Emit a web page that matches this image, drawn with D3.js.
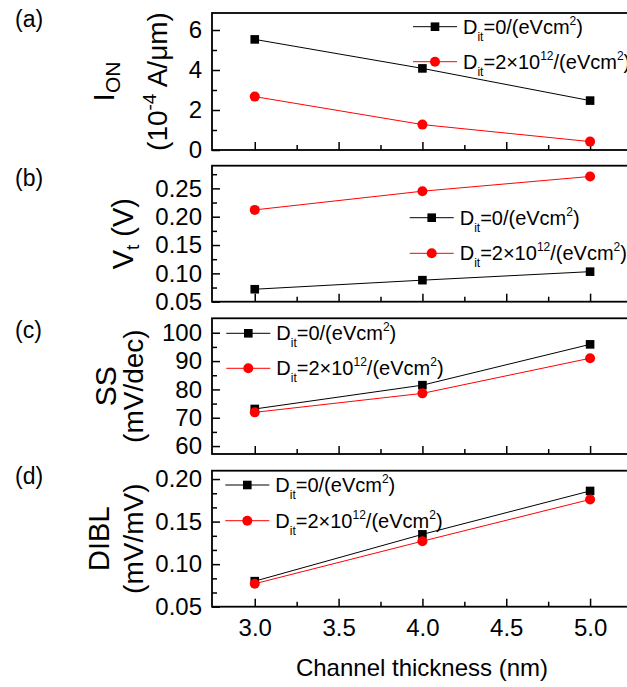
<!DOCTYPE html>
<html><head><meta charset="utf-8">
<script src="https://cdn.jsdelivr.net/npm/d3@7"></script>
<style>body{margin:0;background:#fff}svg{display:block}text{font-family:Arial,"Liberation Sans",sans-serif;fill:#000}</style>
</head><body>
<script>
// ---- data ----
const thickness = [3.0, 4.0, 5.0];
const ionDit0 = [5.53, 4.08, 2.47];
const ionDit2 = [2.67, 1.27, 0.42];
const vtDit0 = [0.072, 0.088, 0.103];
const vtDit2 = [0.212, 0.245, 0.271];
const ssDit0 = [73.1, 81.5, 95.9];
const ssDit2 = [71.9, 78.6, 91.0];
const diblDit0 = [0.080, 0.135, 0.186];
const diblDit2 = [0.077, 0.127, 0.176];
const xTicks = [3.0, 3.5, 4.0, 4.5, 5.0];
const xMinor = [3.25, 3.75, 4.25, 4.75];
const ionTicks = [0, 2, 4, 6], ionMinor = [1, 3, 5];
const vtTicks = [0.05, 0.10, 0.15, 0.20, 0.25], vtMinor = [0.075, 0.125, 0.175, 0.225, 0.275];
const ssTicks = [60, 70, 80, 90, 100], ssMinor = [65, 75, 85, 95];
const diblTicks = [0.05, 0.10, 0.15, 0.20], diblMinor = [0.0667, 0.0833, 0.1167, 0.1333, 0.1667, 0.1833];

const W = 627, H = 687;
const svg = d3.select("body").append("svg").attr("width", W).attr("height", H);
svg.append("rect").attr("width", W).attr("height", H).attr("fill", "#fff");

const x = d3.scaleLinear().domain([2.745, 5.25]).range([212, 632]);

const panels = [
  {label:"(a)", top:13, bottom:150, domain:[0, 6.85], ticks:ionTicks, minor:ionMinor, fmt:d3.format("d"),
   s0:ionDit0, s2:ionDit2, lx:435, ly:[26.7, 61.7], labY:27,
   titles:[{x:114, parts:[["I",30,0],["ON",21,6]]},
           {x:167, parts:[["(10",28,0],["-4",19,-11],[" A/μm)",28,11]]}]},
  {label:"(b)", top:165.7, bottom:301.7, domain:[0.05, 0.29], ticks:vtTicks, minor:vtMinor, fmt:d3.format(".2f"),
   s0:vtDit0, s2:vtDit2, lx:431.7, ly:[217.7, 253.3], labY:186,
   titles:[{x:133, parts:[["V",29,0],["t",19,6],[" (V)",29,-6]]}]},
  {label:"(c)", top:318.3, bottom:454, domain:[57.2, 105.1], ticks:ssTicks, minor:ssMinor, fmt:d3.format("d"),
   s0:ssDit0, s2:ssDit2, lx:248.3, ly:[333.3, 368.3], labY:338,
   titles:[{x:116, parts:[["SS",30,0]]},{x:143, parts:[["(mV/dec)",28,0]]}]},
  {label:"(d)", top:470.7, bottom:606.7, domain:[0.05, 0.2098], ticks:diblTicks, minor:diblMinor, fmt:d3.format(".2f"),
   s0:diblDit0, s2:diblDit2, lx:247.3, ly:[485, 520.7], labY:484, xlabels:true,
   titles:[{x:109, parts:[["DIBL",29,0]]},{x:143, parts:[["(mV/mV)",28,0]]}]}
];

panels.forEach(p => {
  const y = d3.scaleLinear().domain(p.domain).range([p.bottom, p.top]);
  const g = svg.append("g");
  g.append("rect").attr("x", x.range()[0]).attr("y", p.top)
    .attr("width", x.range()[1] - x.range()[0]).attr("height", p.bottom - p.top)
    .attr("fill", "none").attr("stroke", "#000").attr("stroke-width", 1.8);
  const ya = g.append("g").attr("transform", `translate(${x.range()[0]},0)`)
    .call(d3.axisLeft(y).tickValues(p.ticks).tickSize(-8).tickPadding(10).tickFormat(p.fmt));
  ya.select(".domain").remove();
  ya.selectAll("line").attr("stroke-width", 1.5);
  ya.selectAll("text").style("font-size", "24px").attr("font-family", null);
  const ym = g.append("g").attr("transform", `translate(${x.range()[0]},0)`)
    .call(d3.axisLeft(y).tickValues(p.minor).tickSize(-5).tickFormat(""));
  ym.select(".domain").remove();
  ym.selectAll("line").attr("stroke-width", 1.5);
  const xa = g.append("g").attr("transform", `translate(0,${p.bottom})`)
    .call(d3.axisBottom(x).tickValues(xTicks).tickSize(-8).tickPadding(12)
      .tickFormat(p.xlabels ? d3.format(".1f") : ""));
  xa.select(".domain").remove();
  xa.selectAll("line").attr("stroke-width", 1.5);
  xa.selectAll("text").style("font-size", "24px").attr("font-family", null);
  const xm = g.append("g").attr("transform", `translate(0,${p.bottom})`)
    .call(d3.axisBottom(x).tickValues(xMinor).tickSize(-5).tickFormat(""));
  xm.select(".domain").remove();
  xm.selectAll("line").attr("stroke-width", 1.5);

  const line = d3.line().x((d, i) => x(thickness[i])).y(d => y(d));
  g.append("path").datum(p.s0).attr("d", line).attr("fill", "none").attr("stroke", "#000").attr("stroke-width", 1);
  g.append("path").datum(p.s2).attr("d", line).attr("fill", "none").attr("stroke", "#ff0000").attr("stroke-width", 1);
  g.selectAll(".sq").data(p.s0).enter().append("rect")
    .attr("x", (d, i) => x(thickness[i]) - 4.3).attr("y", d => y(d) - 4.3)
    .attr("width", 8.6).attr("height", 8.6).attr("fill", "#000");
  g.selectAll(".ci").data(p.s2).enter().append("circle")
    .attr("cx", (d, i) => x(thickness[i])).attr("cy", d => y(d)).attr("r", 5).attr("fill", "#ff0000");

  const leg = [{c:"#000", sq:true, main:"=0/(eVcm", sup:"2"}, {c:"#ff0000", sq:false, main:"=2×10", sup:"12", rest:"/(eVcm", sup2:"2"}];
  leg.forEach((L, k) => {
    const cy = p.ly[k];
    g.append("line").attr("x1", p.lx - 22).attr("x2", p.lx + 22).attr("y1", cy).attr("y2", cy)
      .attr("stroke", L.c).attr("stroke-width", 1);
    if (L.sq) g.append("rect").attr("x", p.lx - 4.3).attr("y", cy - 4.3).attr("width", 8.6).attr("height", 8.6).attr("fill", L.c);
    else g.append("circle").attr("cx", p.lx).attr("cy", cy).attr("r", 5).attr("fill", L.c);
    const t = g.append("text").attr("x", p.lx + 28).attr("y", cy + 7).style("font-size", "20px");
    t.append("tspan").text("D");
    t.append("tspan").text("it").style("font-size", "12px").attr("dy", 7);
    t.append("tspan").text(L.main).attr("dy", -7);
    t.append("tspan").text(L.sup).style("font-size", "12px").attr("dy", -9);
    if (L.rest) {
      t.append("tspan").text(L.rest).attr("dy", 9);
      t.append("tspan").text(L.sup2).style("font-size", "12px").attr("dy", -9);
    }
    t.append("tspan").text(")").attr("dy", 9);
  });

  svg.append("text").attr("x", 15).attr("y", p.labY).style("font-size", "23px").text(p.label);

  const cyc = (p.top + p.bottom) / 2;
  p.titles.forEach(tt => {
    const t = svg.append("text").attr("transform", `translate(${tt.x},${cyc}) rotate(-90)`)
      .attr("text-anchor", "middle");
    tt.parts.forEach(([s, fs, dy]) => {
      t.append("tspan").text(s).style("font-size", fs + "px").attr("dy", dy);
    });
  });
});

svg.append("text").attr("x", 422).attr("y", 676).attr("text-anchor", "middle")
  .style("font-size", "24px").text("Channel thickness (nm)");
</script>
</body></html>
